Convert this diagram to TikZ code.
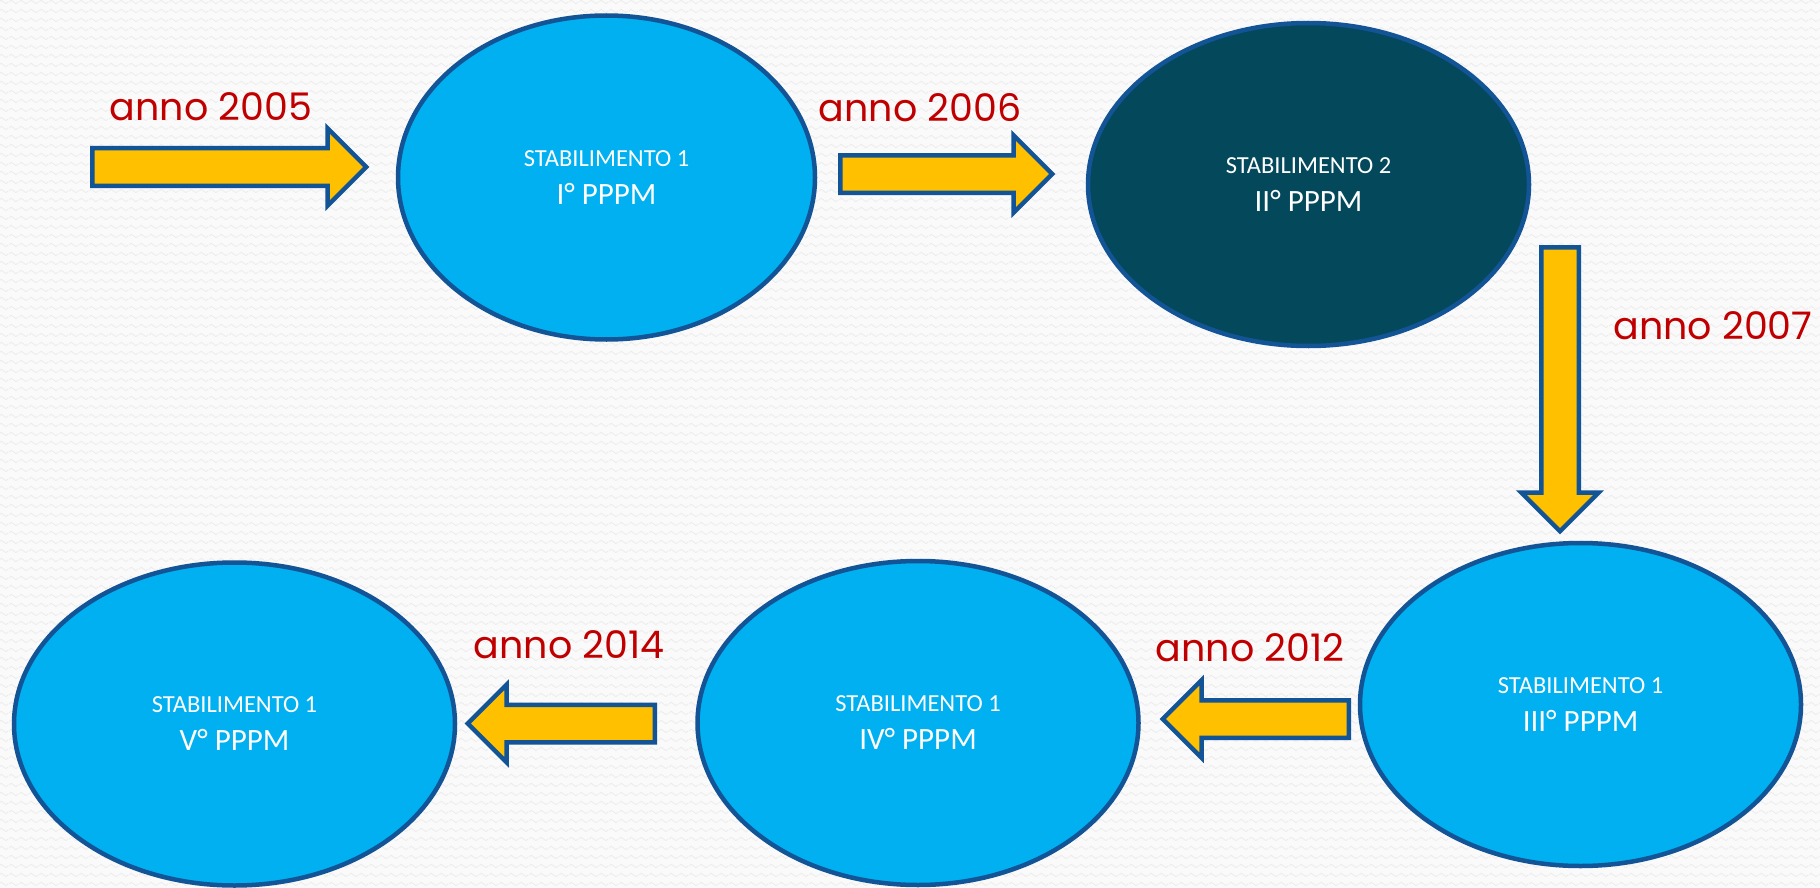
\documentclass[tikz,border=0pt]{standalone}
\usepackage{fontspec}
\setmainfont{Carlito}
\newfontfamily\annofont{Poppins}
\usepackage{xcolor}
\usepackage{tikz}
\usetikzlibrary{
  shapes.geometric,
  shapes.arrows,
  patterns
}

\definecolor{azzurro}{RGB}{0,176,240}
\definecolor{petrolio}{RGB}{4,72,91}
\definecolor{bordo}{RGB}{18,84,150}
\definecolor{giallo}{RGB}{255,192,0}
\definecolor{rosso}{RGB}{192,0,0}
\definecolor{sfondo}{RGB}{250,250,250}
\definecolor{onda}{RGB}{236,236,236}

% trama ondulata dello sfondo
\pgfdeclarepatternformonly{onde}{\pgfpoint{0pt}{0pt}}{\pgfpoint{10pt}{9pt}}{\pgfpoint{10pt}{9pt}}{
  \pgfsetlinewidth{0.9pt}
  \pgfpathmoveto{\pgfpoint{0pt}{4.5pt}}
  \pgfpathcurveto{\pgfpoint{1.7pt}{7pt}}{\pgfpoint{3.3pt}{7pt}}{\pgfpoint{5pt}{4.5pt}}
  \pgfpathcurveto{\pgfpoint{6.7pt}{2pt}}{\pgfpoint{8.3pt}{2pt}}{\pgfpoint{10pt}{4.5pt}}
  \pgfusepath{stroke}
}

\begin{document}
\begin{tikzpicture}[x=1pt,y=-1pt,% coordinate in pixel
          stab/.style={
              ellipse,
              draw=bordo,
              line width=4.5pt,
              fill=azzurro,
              text=white,
              align=center,
              inner sep=0pt,
              minimum width=441pt,
              minimum height=323pt,
              font=\fontsize{24.5}{37}\selectfont
            },freccia/.style={
              single arrow,
              draw=bordo,
              line width=4.5pt,
              fill=giallo,
              inner xsep=0pt,
              inner ysep=16.5pt,
              minimum width=0pt,
              single arrow head extend=20pt,
              single arrow tip angle=90,
              minimum height=#1,
              sloped,
              allow upside down,
              pos=0,
              anchor=tail
            },anno/.style={
              text=rosso,
              inner sep=0pt,
              font=\annofont\fontsize{38}{42}\selectfont
            }
        ]

        % sfondo
        \useasboundingbox (0,0) rectangle (1820,888);
        \fill[sfondo] (0,0) rectangle (1820,888);
        \fill[pattern=onde, pattern color=onda] (0,0) rectangle (1820,888);

        % stabilimenti
        \node[stab, minimum width=417pt, minimum height=324pt] (st1) at (606.5,177.5)
          {STABILIMENTO 1\\[1pt]{\fontsize{31}{37}\selectfont I° PPPM}};
        \node[stab, fill=petrolio] (st2) at (1308.5,184.5)
          {STABILIMENTO 2\\[1pt]{\fontsize{31}{37}\selectfont II° PPPM}};
        \node[stab] (st3) at (1580.5,704.5)
          {STABILIMENTO 1\\[1pt]{\fontsize{31}{37}\selectfont III° PPPM}};
        \node[stab, minimum height=324pt] (st4) at (918,723)
          {STABILIMENTO 1\\[1pt]{\fontsize{31}{37}\selectfont IV° PPPM}};
        \node[stab] (st5) at (234.5,724)
          {STABILIMENTO 1\\[1pt]{\fontsize{31}{37}\selectfont V° PPPM}};

        % estremi delle frecce
        \coordinate (f1a) at (90,167);
        \coordinate (f1b) at (364,167);
        \coordinate (f2a) at (838,174);
        \coordinate (f2b) at (1050,174);
        \coordinate (f3a) at (1560,245);
        \coordinate (f3b) at (1560,529);
        \coordinate (f4a) at (1351,719);
        \coordinate (f4b) at (1165,719);
        \coordinate (f5a) at (657,723.5);
        \coordinate (f5b) at (470,723.5);

        % frecce
        \path (f1a) -- (f1b) node[freccia=274pt] (f1) {};
        \path (f2a) -- (f2b) node[freccia=212pt] (f2) {};
        \path (f3a) -- (f3b) node[freccia=284pt] (f3) {};
        \path (f4a) -- (f4b) node[freccia=186pt] (f4) {};
        \path (f5a) -- (f5b) node[freccia=187pt] (f5) {};

        % anni
        \node[anno] (a2005) at (211,107) {anno 2005};
        \node[anno] (a2006) at (920,108) {anno 2006};
        \node[anno] (a2007) at (1713,326) {anno 2007};
        \node[anno] (a2012) at (1250,648) {anno 2012};
        \node[anno] (a2014) at (569,645) {anno 2014};

      \end{tikzpicture}
\end{document}
